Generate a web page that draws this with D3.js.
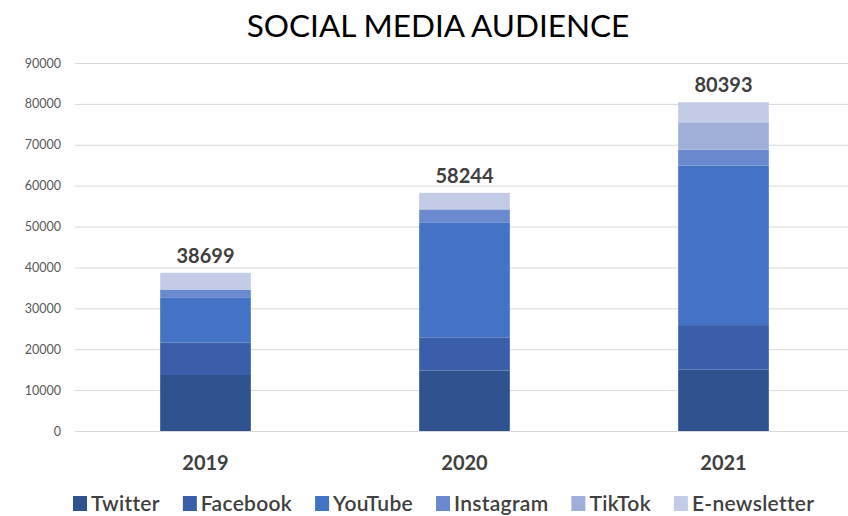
<!DOCTYPE html>
<html>
<head>
<meta charset="utf-8">
<script src="https://cdn.jsdelivr.net/npm/d3@7"></script>
<style>
  body { margin: 0; background: #fff; }
  svg { display: block; font-family: Lato, "Open Sans", sans-serif; }
</style>
</head>
<body>
<div id="chart"></div>
<script>
// data
const years = ["2019", "2020", "2021"];
const platforms = ["Twitter", "Facebook", "YouTube", "Instagram", "TikTok", "E-newsletter"];
const twitter = [13700, 14800, 15000];
const facebook = [7900, 8100, 10900];
const youtube = [11100, 28000, 39000];
const instagram = [1900, 3300, 3900];
const tiktok = [0, 0, 6700];
const enewsletter = [4099, 4044, 4893];
const colors = ["#2f528f", "#3a5ea9", "#4472c4", "#6b89cf", "#a0afd9", "#c3cbe7"];
const yTicks = [0, 10000, 20000, 30000, 40000, 50000, 60000, 70000, 80000, 90000];

const width = 848, height = 516;

// 每年一行
const rows = years.map((y, i) => ({
    year: y,
    Twitter: twitter[i],
    Facebook: facebook[i],
    YouTube: youtube[i],
    Instagram: instagram[i],
    TikTok: tiktok[i],
    "E-newsletter": enewsletter[i]
}));
const totals = rows.map(r => d3.sum(platforms, p => r[p]));

const svg = d3.select("#chart").append("svg")
    .attr("width", width)
    .attr("height", height);

const x = d3.scaleBand().domain(years).range([76, 853]).paddingInner(0.65).paddingOuter(0.325);
const y = d3.scaleLinear().domain([0, 90000]).range([431, 63]);
const color = d3.scaleOrdinal().domain(platforms).range(colors);

// title
svg.append("text")
    .attr("x", 438).attr("y", 37)
    .attr("text-anchor", "middle")
    .attr("font-size", 31.5)
    .attr("fill", "#000")
    .text("SOCIAL MEDIA AUDIENCE");

// grid + y labels
const yAxis = svg.append("g")
    .attr("transform", "translate(75,0)")
    .call(d3.axisLeft(y).tickValues(yTicks).tickSize(-773).tickPadding(14).tickFormat(d3.format("d")));
yAxis.select(".domain").remove();
yAxis.selectAll(".tick line").attr("stroke", "#d9d9d9");
yAxis.selectAll(".tick text")
    .attr("fill", "#595959")
    .attr("font-size", 12.5)
    .attr("font-family", "Lato, sans-serif");

// stacked bars
const series = d3.stack().keys(platforms)(rows);
svg.append("g").selectAll("g")
    .data(series)
    .join("g")
    .attr("fill", d => color(d.key))
    .selectAll("rect")
    .data(d => d)
    .join("rect")
    .attr("x", d => x(d.data.year))
    .attr("width", x.bandwidth())
    .attr("y", d => y(d[1]))
    .attr("height", d => y(d[0]) - y(d[1]));

// totals
svg.append("g").selectAll("text")
    .data(rows)
    .join("text")
    .attr("x", d => x(d.year) + x.bandwidth() / 2)
    .attr("y", (d, i) => y(totals[i]) - 10)
    .attr("text-anchor", "middle")
    .attr("font-size", 20)
    .attr("font-weight", "bold")
    .attr("fill", "#404040")
    .text((d, i) => totals[i]);

// x axis labels
const xAxis = svg.append("g")
    .attr("transform", "translate(0,431)")
    .call(d3.axisBottom(x).tickSize(0).tickPadding(25));
xAxis.select(".domain").remove();
xAxis.selectAll(".tick text")
    .attr("fill", "#404040")
    .attr("font-size", 20)
    .attr("font-weight", "bold")
    .attr("font-family", "Lato, sans-serif");

// legend
const legend = svg.append("g").attr("transform", "translate(73,511)");
let lx = 0;
platforms.forEach(function (p) {
    const item = legend.append("g").attr("transform", "translate(" + lx + ",0)");
    item.append("rect")
        .attr("x", 0).attr("y", -15)
        .attr("width", 14).attr("height", 15)
        .attr("fill", color(p));
    const t = item.append("text")
        .attr("x", 18).attr("y", 0)
        .attr("font-size", 21)
        .attr("font-weight", 600)
        .attr("letter-spacing", 0.3)
        .attr("fill", "#404040")
        .text(p);
    lx += 18 + t.node().getComputedTextLength() + 23;
});
</script>
</body>
</html>
